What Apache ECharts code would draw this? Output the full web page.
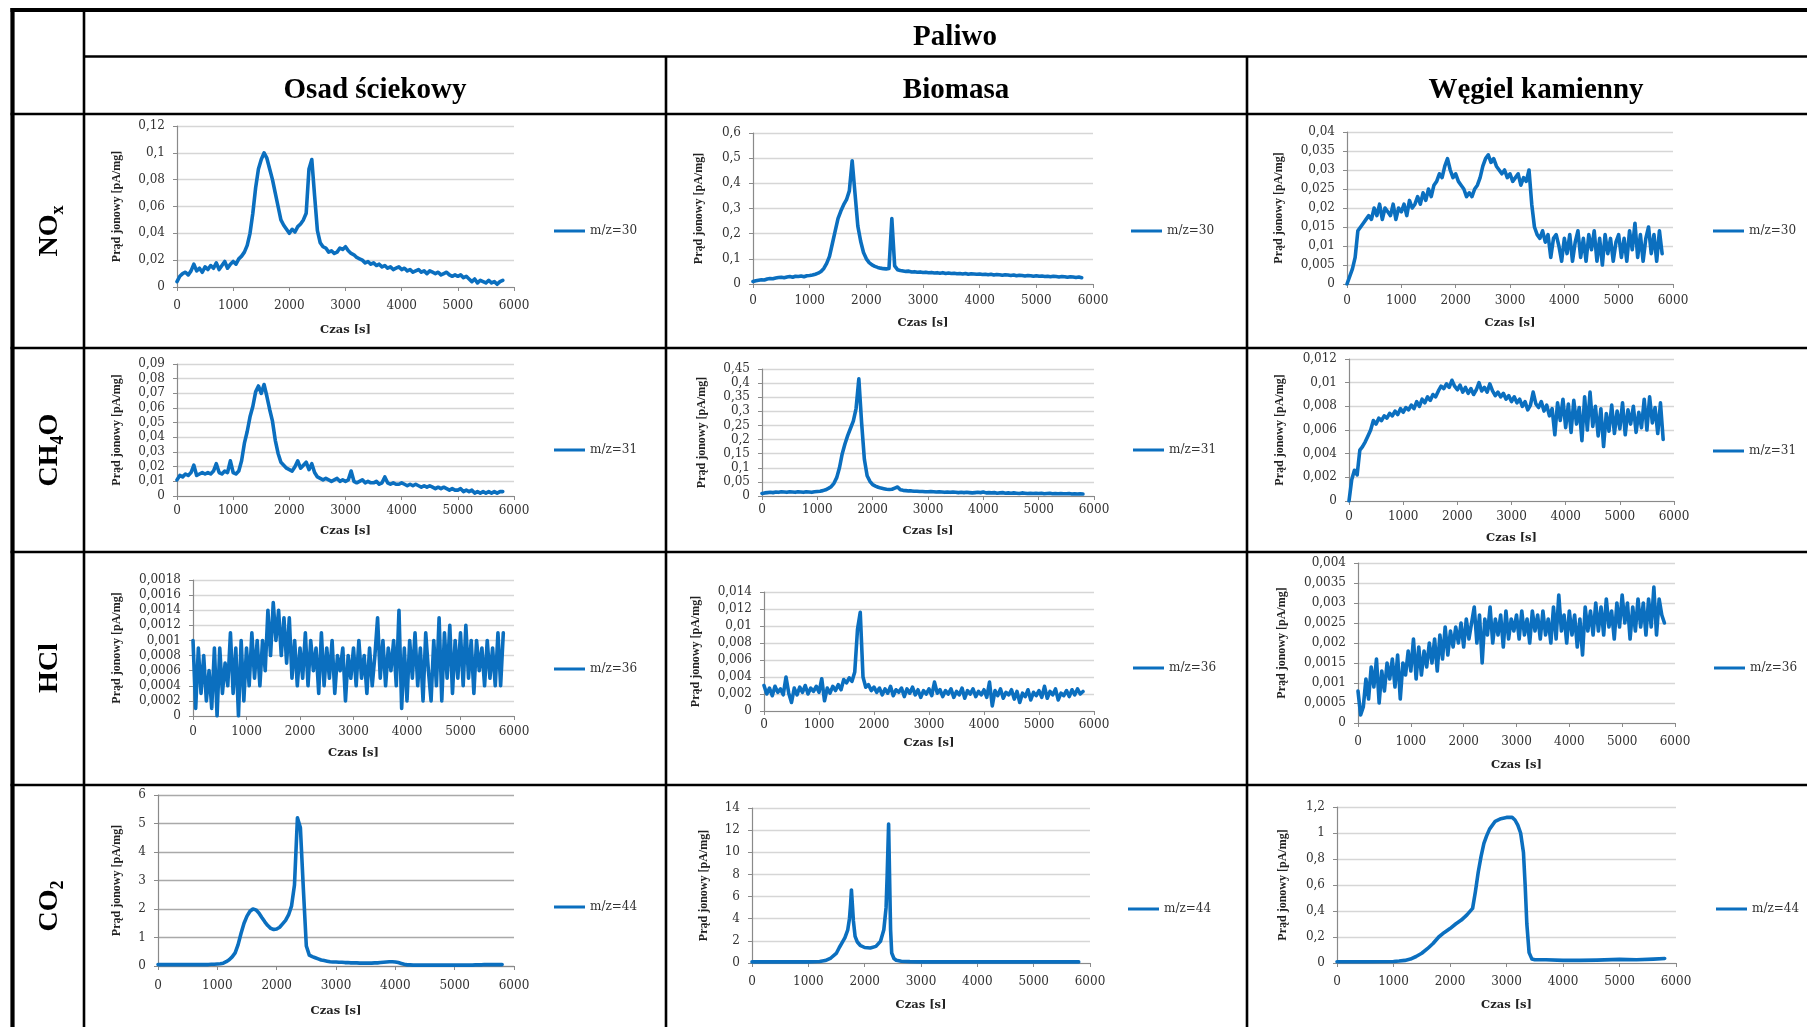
<!DOCTYPE html>
<html>
<head>
<meta charset="utf-8">
<title>Paliwo – prąd jonowy</title>
<script src="https://cdn.jsdelivr.net/npm/echarts@6/dist/echarts.min.js"></script>
<style>
  html, body { margin: 0; padding: 0; background: #ffffff; }
  #chart { width: 1807px; height: 1027px; }
</style>
</head>
<body>
<div id="chart"></div>
<script>
// ---- table headings ----
const fuelGroup = 'Paliwo';
const fuels = ['Osad ściekowy', 'Biomasa', 'Węgiel kamienny'];
const gasLabels = ['{m|NO}{s|x}', '{m|CH}{s|4}{m|O}', '{m|HCl}', '{m|CO}{s|2}'];
const massNames = ['m/z=30', 'm/z=31', 'm/z=36', 'm/z=44'];
const xTitle = 'Czas [s]';
const yTitle = 'Prąd jonowy [pA/mg]';

// ---- axis ranges (rows: gases, columns: fuels) ----
const yMax  = [[0.12, 0.6, 0.04], [0.09, 0.45, 0.012], [0.0018, 0.014, 0.004], [6, 14, 1.2]];
const yStep = [[0.02, 0.1, 0.005], [0.01, 0.05, 0.002], [0.0002, 0.002, 0.0005], [1, 2, 0.2]];
const xMax = 6000, xStep = 1000;

// ---- sampling times [s] ----
const sampleTimes = [
  0,50,100,150,200,250,300,350,400,450,
  500,550,600,650,700,750,800,850,900,950,
  1000,1050,1100,1150,1200,1250,1300,1350,1400,1450,
  1500,1550,1600,1650,1700,1750,1800,1850,1900,1950,
  2000,2050,2100,2150,2200,2250,2300,2350,2400,2450,
  2500,2550,2600,2650,2700,2750,2800,2850,2900,2950,
  3000,3050,3100,3150,3200,3250,3300,3350,3400,3450,
  3500,3550,3600,3650,3700,3750,3800,3850,3900,3950,
  4000,4050,4100,4150,4200,4250,4300,4350,4400,4450,
  4500,4550,4600,4650,4700,4750,4800,4850,4900,4950,
  5000,5050,5100,5150,5200,5250,5300,5350,5400,5450,
  5500,5550,5600,5650,5700,5750,5800
];

// ---- NOx, m/z=30 ----
const noxOsad = [
  0.004,0.008,0.010,0.011,0.009,0.012,0.017,0.012,0.014,0.011,
  0.015,0.013,0.016,0.014,0.018,0.013,0.016,0.019,0.014,0.017,
  0.019,0.017,0.021,0.023,0.026,0.031,0.040,0.055,0.074,0.088,
  0.095,0.100,0.096,0.088,0.080,0.070,0.060,0.050,0.046,0.043,
  0.040,0.043,0.041,0.045,0.047,0.050,0.055,0.088,0.095,0.068,
  0.042,0.033,0.030,0.029,0.026,0.027,0.025,0.026,0.029,0.028,
  0.030,0.027,0.025,0.024,0.022,0.021,0.020,0.018,0.019,0.017,
  0.018,0.016,0.017,0.015,0.016,0.014,0.015,0.013,0.014,0.015,
  0.013,0.014,0.012,0.013,0.011,0.012,0.013,0.011,0.012,0.010,
  0.012,0.011,0.010,0.011,0.009,0.010,0.011,0.009,0.008,0.009,
  0.008,0.009,0.007,0.008,0.006,0.004,0.006,0.003,0.005,0.004,
  0.003,0.005,0.003,0.004,0.002,0.004,0.005
];
const noxBiomasa = [
  0.010,0.013,0.015,0.017,0.016,0.020,0.022,0.021,0.024,0.026,
  0.027,0.025,0.028,0.030,0.027,0.031,0.030,0.032,0.029,0.033,
  0.034,0.036,0.039,0.043,0.050,0.062,0.082,0.110,0.160,0.210,
  0.260,0.290,0.315,0.335,0.370,0.490,0.360,0.230,0.170,0.125,
  0.100,0.085,0.076,0.070,0.066,0.063,0.061,0.060,0.062,0.260,
  0.072,0.057,0.054,0.052,0.050,0.051,0.048,0.049,0.047,0.048,
  0.046,0.047,0.045,0.046,0.044,0.045,0.043,0.045,0.042,0.044,
  0.042,0.043,0.041,0.042,0.040,0.042,0.039,0.041,0.040,0.039,
  0.040,0.038,0.039,0.037,0.039,0.036,0.038,0.037,0.035,0.037,
  0.036,0.034,0.036,0.033,0.035,0.034,0.032,0.034,0.033,0.031,
  0.033,0.031,0.032,0.030,0.031,0.029,0.031,0.030,0.028,0.030,
  0.029,0.027,0.029,0.028,0.026,0.028,0.025
];
const noxWegiel = [
  0.000,0.002,0.004,0.007,0.014,0.015,0.016,0.017,0.018,0.017,
  0.020,0.018,0.021,0.017,0.020,0.019,0.018,0.021,0.017,0.020,
  0.019,0.021,0.018,0.022,0.020,0.021,0.023,0.021,0.024,0.022,
  0.025,0.023,0.026,0.027,0.029,0.028,0.031,0.033,0.030,0.028,
  0.029,0.027,0.026,0.025,0.023,0.024,0.023,0.025,0.026,0.028,
  0.031,0.033,0.034,0.032,0.033,0.031,0.030,0.029,0.030,0.028,
  0.029,0.027,0.028,0.029,0.026,0.028,0.027,0.030,0.021,0.015,
  0.013,0.012,0.014,0.011,0.013,0.007,0.012,0.013,0.010,0.006,
  0.012,0.008,0.013,0.006,0.011,0.014,0.007,0.012,0.006,0.013,
  0.009,0.014,0.006,0.012,0.005,0.013,0.008,0.012,0.006,0.011,
  0.013,0.007,0.012,0.006,0.014,0.009,0.016,0.007,0.013,0.006,
  0.012,0.015,0.008,0.013,0.006,0.014,0.008
];

// ---- CH4O, m/z=31 ----
const ch4oOsad = [
  0.011,0.014,0.013,0.015,0.014,0.016,0.021,0.014,0.015,0.016,
  0.015,0.016,0.015,0.017,0.022,0.016,0.015,0.017,0.016,0.024,
  0.016,0.015,0.017,0.024,0.036,0.044,0.054,0.061,0.071,0.075,
  0.070,0.076,0.068,0.059,0.051,0.038,0.029,0.023,0.021,0.019,
  0.018,0.017,0.020,0.024,0.019,0.021,0.023,0.018,0.022,0.016,
  0.013,0.012,0.011,0.012,0.011,0.010,0.011,0.012,0.010,0.011,
  0.010,0.011,0.017,0.010,0.009,0.010,0.011,0.009,0.010,0.009,
  0.009,0.010,0.008,0.009,0.013,0.009,0.008,0.009,0.008,0.008,
  0.009,0.008,0.007,0.008,0.007,0.008,0.007,0.006,0.007,0.006,
  0.007,0.006,0.005,0.006,0.005,0.006,0.005,0.004,0.005,0.004,
  0.004,0.005,0.003,0.004,0.003,0.004,0.002,0.003,0.002,0.003,
  0.002,0.003,0.002,0.003,0.002,0.003,0.003
];
const ch4oBiomasa = [
  0.009,0.011,0.012,0.013,0.012,0.014,0.013,0.015,0.014,0.013,
  0.015,0.014,0.013,0.015,0.014,0.013,0.015,0.014,0.013,0.015,
  0.016,0.017,0.019,0.022,0.027,0.033,0.045,0.065,0.100,0.150,
  0.185,0.215,0.240,0.265,0.310,0.415,0.260,0.130,0.072,0.052,
  0.040,0.035,0.031,0.028,0.026,0.024,0.023,0.024,0.028,0.032,
  0.022,0.020,0.019,0.018,0.018,0.017,0.017,0.016,0.016,0.015,
  0.015,0.016,0.015,0.014,0.015,0.014,0.013,0.014,0.013,0.014,
  0.013,0.012,0.013,0.012,0.013,0.012,0.011,0.012,0.013,0.012,
  0.014,0.011,0.012,0.011,0.012,0.010,0.011,0.012,0.010,0.011,
  0.010,0.011,0.010,0.009,0.011,0.010,0.009,0.010,0.009,0.010,
  0.009,0.010,0.008,0.009,0.010,0.008,0.009,0.008,0.009,0.008,
  0.008,0.009,0.007,0.008,0.007,0.008,0.007
];
const ch4oWegiel = [
  0.0000,0.0018,0.0026,0.0022,0.0043,0.0046,0.0050,0.0055,0.0060,0.0068,
  0.0065,0.0070,0.0068,0.0072,0.0070,0.0074,0.0072,0.0076,0.0073,0.0078,
  0.0075,0.0079,0.0077,0.0081,0.0078,0.0084,0.0080,0.0086,0.0083,0.0088,
  0.0085,0.0090,0.0088,0.0093,0.0097,0.0095,0.0099,0.0096,0.0102,0.0097,
  0.0094,0.0098,0.0092,0.0096,0.0091,0.0095,0.0090,0.0094,0.0100,0.0093,
  0.0096,0.0092,0.0099,0.0093,0.0089,0.0092,0.0088,0.0091,0.0086,0.0089,
  0.0084,0.0088,0.0083,0.0086,0.0080,0.0084,0.0077,0.0081,0.0092,0.0082,
  0.0079,0.0084,0.0076,0.0081,0.0072,0.0078,0.0056,0.0083,0.0068,0.0086,
  0.0062,0.0082,0.0058,0.0085,0.0065,0.0079,0.0051,0.0088,0.0060,0.0092,
  0.0063,0.0080,0.0055,0.0078,0.0046,0.0074,0.0059,0.0081,0.0057,0.0076,
  0.0061,0.0083,0.0056,0.0077,0.0065,0.0080,0.0058,0.0075,0.0062,0.0086,
  0.0060,0.0088,0.0066,0.0079,0.0057,0.0083,0.0052
];

// ---- HCl, m/z=36 ----
const hclOsad = [
  0.0010,0.0001,0.0009,0.0003,0.0008,0.0002,0.0006,0.0001,0.0009,0.0000,
  0.0009,0.0003,0.0007,0.0004,0.0011,0.0003,0.0009,0.0000,0.0010,0.0002,
  0.0009,0.0004,0.0011,0.0005,0.0010,0.0004,0.0010,0.0006,0.0014,0.0008,
  0.0015,0.0010,0.0014,0.0008,0.0013,0.0007,0.0013,0.0005,0.0010,0.0004,
  0.0009,0.0005,0.0011,0.0004,0.0010,0.0006,0.0009,0.0003,0.0011,0.0004,
  0.0009,0.0005,0.0010,0.0003,0.0008,0.0006,0.0009,0.0002,0.0008,0.0005,
  0.0009,0.0004,0.0010,0.0005,0.0008,0.0003,0.0009,0.0004,0.0008,0.0013,
  0.0005,0.0010,0.0004,0.0009,0.0006,0.0010,0.0004,0.0014,0.0001,0.0009,
  0.0002,0.0010,0.0005,0.0011,0.0004,0.0009,0.0002,0.0011,0.0006,0.0002,
  0.0010,0.0004,0.0013,0.0002,0.0011,0.0005,0.0012,0.0003,0.0010,0.0005,
  0.0011,0.0004,0.0012,0.0005,0.0010,0.0003,0.0010,0.0006,0.0009,0.0004,
  0.0010,0.0005,0.0009,0.0004,0.0011,0.0004,0.0011
];
const hclBiomasa = [
  0.0030,0.0020,0.0027,0.0018,0.0029,0.0022,0.0026,0.0019,0.0040,0.0021,
  0.0010,0.0027,0.0019,0.0028,0.0022,0.0030,0.0020,0.0027,0.0023,0.0029,
  0.0022,0.0038,0.0012,0.0027,0.0021,0.0029,0.0024,0.0031,0.0025,0.0037,
  0.0033,0.0039,0.0035,0.0046,0.0096,0.0116,0.0040,0.0028,0.0031,0.0024,
  0.0028,0.0022,0.0027,0.0019,0.0026,0.0021,0.0029,0.0018,0.0025,0.0022,
  0.0027,0.0017,0.0026,0.0021,0.0028,0.0019,0.0025,0.0016,0.0024,0.0020,
  0.0026,0.0018,0.0034,0.0021,0.0025,0.0017,0.0024,0.0020,0.0026,0.0016,
  0.0023,0.0019,0.0027,0.0015,0.0024,0.0020,0.0026,0.0017,0.0023,0.0019,
  0.0025,0.0016,0.0034,0.0006,0.0024,0.0018,0.0026,0.0015,0.0022,0.0019,
  0.0025,0.0014,0.0023,0.0010,0.0021,0.0017,0.0025,0.0013,0.0022,0.0018,
  0.0024,0.0016,0.0029,0.0015,0.0023,0.0019,0.0026,0.0013,0.0021,0.0018,
  0.0024,0.0017,0.0025,0.0019,0.0026,0.0020,0.0023
];
const hclWegiel = [
  0.0008,0.0002,0.0004,0.0011,0.0006,0.0014,0.0009,0.0016,0.0005,0.0013,
  0.0008,0.0015,0.0011,0.0016,0.0009,0.0017,0.0006,0.0015,0.0012,0.0018,
  0.0013,0.0021,0.0011,0.0019,0.0012,0.0018,0.0014,0.0020,0.0015,0.0021,
  0.0013,0.0022,0.0016,0.0024,0.0017,0.0023,0.0019,0.0024,0.0020,0.0025,
  0.0019,0.0026,0.0021,0.0025,0.0029,0.0020,0.0027,0.0015,0.0026,0.0022,
  0.0029,0.0020,0.0026,0.0022,0.0027,0.0019,0.0028,0.0021,0.0026,0.0023,
  0.0027,0.0021,0.0028,0.0022,0.0026,0.0020,0.0028,0.0023,0.0027,0.0021,
  0.0028,0.0022,0.0026,0.0020,0.0029,0.0021,0.0032,0.0023,0.0027,0.0020,
  0.0028,0.0022,0.0027,0.0019,0.0026,0.0017,0.0029,0.0023,0.0028,0.0022,
  0.0030,0.0023,0.0029,0.0022,0.0031,0.0024,0.0028,0.0021,0.0030,0.0024,
  0.0032,0.0025,0.0030,0.0021,0.0029,0.0023,0.0031,0.0024,0.0030,0.0022,
  0.0031,0.0024,0.0034,0.0022,0.0031,0.0027,0.0025
];

// ---- CO2, m/z=44 ----
const co2Osad = [
  0.05,0.05,0.05,0.05,0.05,0.05,0.05,0.05,0.05,0.05,
  0.05,0.05,0.05,0.05,0.05,0.05,0.05,0.05,0.06,0.06,
  0.07,0.08,0.10,0.15,0.22,0.32,0.46,0.75,1.15,1.50,
  1.75,1.92,2.00,1.97,1.86,1.70,1.55,1.42,1.32,1.28,
  1.30,1.36,1.48,1.60,1.79,2.10,2.84,5.20,4.85,2.70,
  0.70,0.38,0.33,0.29,0.25,0.21,0.19,0.17,0.15,0.14,
  0.14,0.13,0.13,0.12,0.12,0.11,0.11,0.11,0.10,0.10,
  0.10,0.10,0.10,0.11,0.11,0.12,0.13,0.14,0.15,0.15,
  0.14,0.12,0.09,0.06,0.04,0.04,0.03,0.03,0.03,0.03,
  0.03,0.03,0.03,0.03,0.03,0.03,0.03,0.03,0.03,0.03,
  0.03,0.03,0.03,0.03,0.03,0.03,0.03,0.04,0.04,0.04,
  0.05,0.05,0.05,0.05,0.05,0.05,0.05
];
const co2BiomasaTimes = [
  0,500,1000,1100,1200,1300,1400,1500,1550,1600,
  1650,1700,1730,1750,1765,1780,1800,1830,1870,1920,
  2000,2100,2200,2280,2340,2380,2400,2425,2445,2460,
  2480,2520,2560,2650,2800,3000,3500,4000,4500,5000,
  5500,5800
];
const co2Biomasa = [
  0.10,0.10,0.10,0.11,0.14,0.22,0.45,0.90,1.40,1.85,
  2.30,3.00,4.00,5.30,6.60,5.40,3.80,2.40,1.90,1.60,
  1.40,1.35,1.50,1.95,3.00,5.00,8.00,12.55,7.00,3.00,
  0.90,0.40,0.25,0.16,0.12,0.10,0.10,0.10,0.10,0.10,
  0.10,0.10
];
const co2WegielTimes = [
  0,500,1000,1100,1200,1300,1400,1500,1600,1700,
  1800,1900,2000,2100,2200,2300,2400,2450,2500,2550,
  2600,2650,2700,2800,2900,3000,3100,3150,3200,3250,
  3300,3330,3360,3400,3450,3500,3700,4000,4300,4600,
  5000,5300,5600,5800
];
const co2Wegiel = [
  0.010,0.010,0.012,0.015,0.020,0.030,0.050,0.075,0.110,0.150,
  0.200,0.235,0.265,0.300,0.330,0.370,0.420,0.550,0.700,0.820,
  0.920,0.980,1.030,1.090,1.110,1.120,1.120,1.100,1.060,1.000,
  0.850,0.600,0.300,0.080,0.030,0.025,0.025,0.020,0.020,0.022,
  0.028,0.025,0.030,0.035
];

const valueTable = [
  [noxOsad, noxBiomasa, noxWegiel],
  [ch4oOsad, ch4oBiomasa, ch4oWegiel],
  [hclOsad, hclBiomasa, hclWegiel],
  [co2Osad, co2Biomasa, co2Wegiel]
];
const timeTable = [
  [sampleTimes, sampleTimes, sampleTimes],
  [sampleTimes, sampleTimes, sampleTimes],
  [sampleTimes, sampleTimes, sampleTimes],
  [sampleTimes, co2BiomasaTimes, co2WegielTimes]
];

// ---- page layout (pixels) ----
const plotBoxes = [
  [177,126,337,161], [753,133,340,151], [1347,132,326,152],
  [177,364,337,132], [762,369,332,127], [1349,359,325,142],
  [193,580,321,136], [764,592,330,119], [1358,563,317,160],
  [158,795,356,171], [752,808,338,155], [1337,807,339,156]
];
const xLabelMargin = [13,11,11, 9,8,10, 10,8,13, 14,13,13];
const xNameGap     = [37,33,33, 29,29,31, 31,26,36, 39,36,36];
const yNameGap     = [54,48,62, 54,54,63, 70,62,70, 35,42,48];
const legendAt = [
  [554,232], [1131,232], [1713,232],
  [554,451], [1133,451], [1713,452],
  [554,670], [1133,669], [1714,669],
  [554,908], [1128,910], [1716,910]
];
const rowLines = [10, 56.5, 114, 348, 552, 785];
const rowCenters = [231, 450, 668, 906];
const colLines = [12.5, 84, 666, 1247];
const colCenters = [375, 956, 1536];

const BLUE = '#0b6fbf';
const tickFont = 'DejaVu Serif';
const serif = 'Liberation Serif';

function commaNumber(v) {
  if (Math.abs(v) < 1e-12) return '0';
  return String(parseFloat(v.toFixed(6))).replace('.', ',');
}
function plainNumber(v) {
  return String(Math.round(v));
}

const grids = [], xAxes = [], yAxes = [], series = [], legends = [];
for (let r = 0; r < 4; r++) {
  for (let c = 0; c < 3; c++) {
    const i = r * 3 + c;
    const box = plotBoxes[i];
    const gridColor = (i === 9) ? '#a9a9a9' : '#d6d6d6';
    grids.push({ left: box[0], top: box[1], width: box[2], height: box[3],
                 containLabel: false, outerBoundsMode: 'none' });
    xAxes.push({
      type: 'value', gridIndex: i, min: 0, max: xMax, interval: xStep,
      axisLine: { show: true, onZero: false, lineStyle: { color: '#8a8a8a', width: 1.2 } },
      axisTick: { show: true, length: 4, lineStyle: { color: '#8a8a8a', width: 1 } },
      splitLine: { show: false },
      axisLabel: { margin: xLabelMargin[i], fontFamily: tickFont, fontSize: 12, color: '#333',
                   formatter: plainNumber, showMinLabel: true, showMaxLabel: true, hideOverlap: false },
      name: xTitle, nameLocation: 'middle', nameGap: xNameGap[i],
      nameTextStyle: { fontFamily: tickFont, fontWeight: 'bold', fontSize: 11.5, color: '#222' }
    });
    yAxes.push({
      type: 'value', gridIndex: i, min: 0, max: yMax[r][c], interval: yStep[r][c],
      axisLine: { show: true, lineStyle: { color: '#8a8a8a', width: 1.2 } },
      axisTick: { show: true, length: 4, lineStyle: { color: '#8a8a8a', width: 1 } },
      splitLine: { show: true, lineStyle: { color: gridColor, width: 1.3 } },
      axisLabel: { margin: 12, fontFamily: tickFont, fontSize: 12, color: '#333',
                   formatter: commaNumber, showMinLabel: true, showMaxLabel: true, hideOverlap: false },
      name: yTitle, nameLocation: 'middle', nameRotate: 90, nameGap: yNameGap[i],
      nameTextStyle: { fontFamily: serif, fontWeight: 'bold', fontSize: 12, color: '#222' }
    });
    const times = timeTable[r][c];
    const values = valueTable[r][c];
    series.push({
      type: 'line', name: massNames[r], xAxisIndex: i, yAxisIndex: i,
      data: times.map((t, k) => [t, values[k]]),
      showSymbol: false, symbol: 'none', smooth: false,
      lineStyle: { color: BLUE, width: 3.6, join: 'round', cap: 'round' },
      itemStyle: { color: BLUE },
      emphasis: { disabled: true }
    });
    legends.push({
      left: legendAt[i][0], top: legendAt[i][1] - 7, orient: 'horizontal', padding: 0,
      data: [massNames[r]], icon: 'rect', itemWidth: 31, itemHeight: 3, selectedMode: false,
      textStyle: { fontFamily: tickFont, fontSize: 12, color: '#333' }
    });
  }
}

// ---- table frame and headings ----
const graphics = [];
const W = 1807, H = 1027;
function hLine(y, x1, w) {
  graphics.push({ type: 'line', silent: true, z: 50,
    shape: { x1: x1, y1: y, x2: W, y2: y }, style: { stroke: '#000', lineWidth: w } });
}
function vLine(x, y1, w) {
  graphics.push({ type: 'line', silent: true, z: 50,
    shape: { x1: x, y1: y1, x2: x, y2: H }, style: { stroke: '#000', lineWidth: w } });
}
hLine(rowLines[0], 10.5, 4);
hLine(rowLines[1], colLines[1], 2.6);
for (let k = 2; k < rowLines.length; k++) hLine(rowLines[k], 10.5, 2.6);
vLine(colLines[0], 8, 4.2);
vLine(colLines[1], rowLines[0], 2.6);
vLine(colLines[2], rowLines[1], 2.6);
vLine(colLines[3], rowLines[1], 2.6);

function headText(text, x, y) {
  graphics.push({ type: 'text', silent: true, z: 60, x: x, y: y,
    style: { text: text, fontFamily: serif, fontWeight: 'bold', fontSize: 29, fill: '#000',
             align: 'center', verticalAlign: 'middle', textAlign: 'center', textVerticalAlign: 'middle' } });
}
headText(fuelGroup, 955, 37.5);
fuels.forEach((f, c) => headText(f, colCenters[c], 90.5));

gasLabels.forEach((g, r) => {
  graphics.push({ type: 'text', silent: true, z: 60, x: 50, y: rowCenters[r], rotation: Math.PI / 2,
    style: {
      text: g, align: 'center', verticalAlign: 'middle', textAlign: 'center', textVerticalAlign: 'middle',
      rich: {
        m: { fontFamily: serif, fontWeight: 'bold', fontSize: 28, lineHeight: 34, fill: '#000' },
        s: { fontFamily: serif, fontWeight: 'bold', fontSize: 18, lineHeight: 18, verticalAlign: 'bottom', fill: '#000' }
      }
    } });
});

const chart = echarts.init(document.getElementById('chart'), null, { renderer: 'canvas', width: W, height: H });
chart.setOption({
  animation: false,
  backgroundColor: '#ffffff',
  grid: grids,
  xAxis: xAxes,
  yAxis: yAxes,
  legend: legends,
  series: series,
  graphic: { elements: graphics }
});
</script>
</body>
</html>
